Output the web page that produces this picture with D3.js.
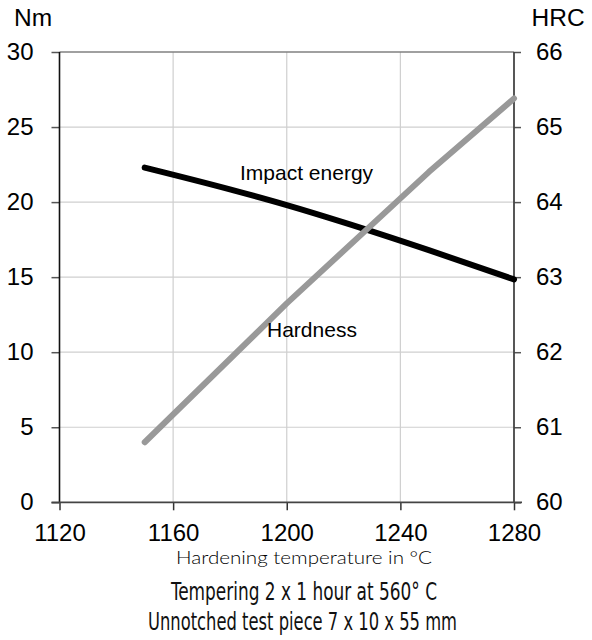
<!DOCTYPE html>
<html><head><meta charset="utf-8">
<script src="https://cdn.jsdelivr.net/npm/d3@7"></script>
<style>body{margin:0;background:#fff}</style>
</head><body>
<svg id="c" width="592" height="640"></svg>
<script>
const xTicks = [1120, 1160, 1200, 1240, 1280];
const yLeftTicks = [0, 5, 10, 15, 20, 25, 30];
const yRightTicks = [60, 61, 62, 63, 64, 65, 66];
const impactTemp = [1150, 1180, 1200, 1220, 1250, 1280];
const impactNm = [22.3, 20.85, 19.8, 18.65, 16.8, 14.85];
const hardTemp = [1150, 1200, 1250, 1280];
const hardHRC = [60.8, 62.65, 64.4, 65.38];

const svg = d3.select("#c");
const L = 59.5, R = 514, T = 52, B = 502.3;
const x = d3.scaleLinear().domain([1120, 1280]).range([L, R]);
const yl = d3.scaleLinear().domain([0, 30]).range([B, T]);
const yr = d3.scaleLinear().domain([60, 66]).range([B, T]);
const font = "'Liberation Sans', Arial, sans-serif";

// grid
svg.append("g").selectAll("line").data(yLeftTicks.slice(1, -1)).join("line")
  .attr("x1", L).attr("x2", R).attr("y1", d => yl(d)).attr("y2", d => yl(d))
  .attr("stroke", "#cfcfcf").attr("stroke-width", 1.2);
svg.append("g").selectAll("line").data(xTicks.slice(1, -1)).join("line")
  .attr("y1", T).attr("y2", B).attr("x1", d => x(d)).attr("x2", d => x(d))
  .attr("stroke", "#cfcfcf").attr("stroke-width", 1.2);

// frame top
svg.append("line").attr("x1", L).attr("x2", R).attr("y1", T).attr("y2", T).attr("stroke", "#808080").attr("stroke-width", 1.5);

// axes
const axL = d3.axisLeft(yl).tickValues(yLeftTicks).tickSize(8).tickPadding(18).tickFormat(d3.format("d"));
const gL = svg.append("g").attr("transform", `translate(${L},0)`).call(axL);
const axR = d3.axisRight(yr).tickValues(yRightTicks).tickSize(7).tickPadding(15).tickFormat(d3.format("d"));
const gR = svg.append("g").attr("transform", `translate(${R},0)`).call(axR);
const axB = d3.axisBottom(x).tickValues(xTicks).tickSize(8).tickPadding(14).tickFormat(d3.format("d"));
const gB = svg.append("g").attr("transform", `translate(0,${B})`).call(axB);
[gL, gR, gB].forEach(g => {
  g.attr("font-size", null).attr("font-family", null);
  g.selectAll("text").style("font-family", font).style("font-size", "24px").attr("fill", "#000");
  g.select(".domain").remove();
});
gL.selectAll("line").attr("stroke", "#555").attr("stroke-width", 1.5);
gR.selectAll("line").attr("stroke", "#555").attr("stroke-width", 1.5);
gB.selectAll("line").attr("stroke", "#333").attr("stroke-width", 1.5);
gB.selectAll("text").attr("dy", "0.71em");

svg.append("line").attr("x1", L).attr("x2", L).attr("y1", T).attr("y2", B).attr("stroke", "#111").attr("stroke-width", 1.6);
svg.append("line").attr("x1", R).attr("x2", R).attr("y1", T).attr("y2", B).attr("stroke", "#444").attr("stroke-width", 1.8);
svg.append("line").attr("x1", L - 8).attr("x2", R + 8).attr("y1", B).attr("y2", B).attr("stroke", "#444").attr("stroke-width", 1.8);

// lines
const lineI = d3.line().x((d, i) => x(impactTemp[i])).y(d => yl(d)).curve(d3.curveMonotoneX);
svg.append("path").datum(impactNm).attr("d", lineI).attr("fill", "none")
  .attr("stroke", "#000").attr("stroke-width", 6).attr("stroke-linecap", "round");
const lineH = d3.line().x((d, i) => x(hardTemp[i])).y(d => yr(d));
svg.append("path").datum(hardHRC).attr("d", lineH).attr("fill", "none")
  .attr("stroke", "#999").attr("stroke-width", 6).attr("stroke-linecap", "round").attr("stroke-linejoin", "round");

// labels
svg.append("text").attr("x", 240).attr("y", 179.5).text("Impact energy").style("font-family", font).style("font-size", "21px");
svg.append("text").attr("x", 267).attr("y", 337).text("Hardness").style("font-family", font).style("font-size", "21px");
svg.append("text").attr("x", 14).attr("y", 25.5).text("Nm").style("font-family", font).style("font-size", "24.5px");
svg.append("text").attr("x", 531.5).attr("y", 25.5).text("HRC").style("font-family", font).style("font-size", "24.5px");

svg.append("text").attr("x", 176).attr("y", 563.5).text("Hardening temperature in °C")
  .style("font-family", "Lato, 'Open Sans', sans-serif").style("font-weight", 300).style("font-size", "17.5px")
  .attr("textLength", 256).attr("lengthAdjust", "spacingAndGlyphs").attr("fill", "#000");
svg.append("text").attr("x", 171).attr("y", 600).text("Tempering 2 x 1 hour at 560° C")
  .style("font-family", "'DejaVu Sans', sans-serif").style("font-size", "25px").style("font-stretch", "condensed")
  .attr("textLength", 266).attr("lengthAdjust", "spacingAndGlyphs").attr("fill", "#111");
svg.append("text").attr("x", 148).attr("y", 630).text("Unnotched test piece 7 x 10 x 55 mm")
  .style("font-family", "'DejaVu Sans', sans-serif").style("font-size", "25px").style("font-stretch", "condensed")
  .attr("textLength", 309).attr("lengthAdjust", "spacingAndGlyphs").attr("fill", "#111");
</script>
</body></html>
